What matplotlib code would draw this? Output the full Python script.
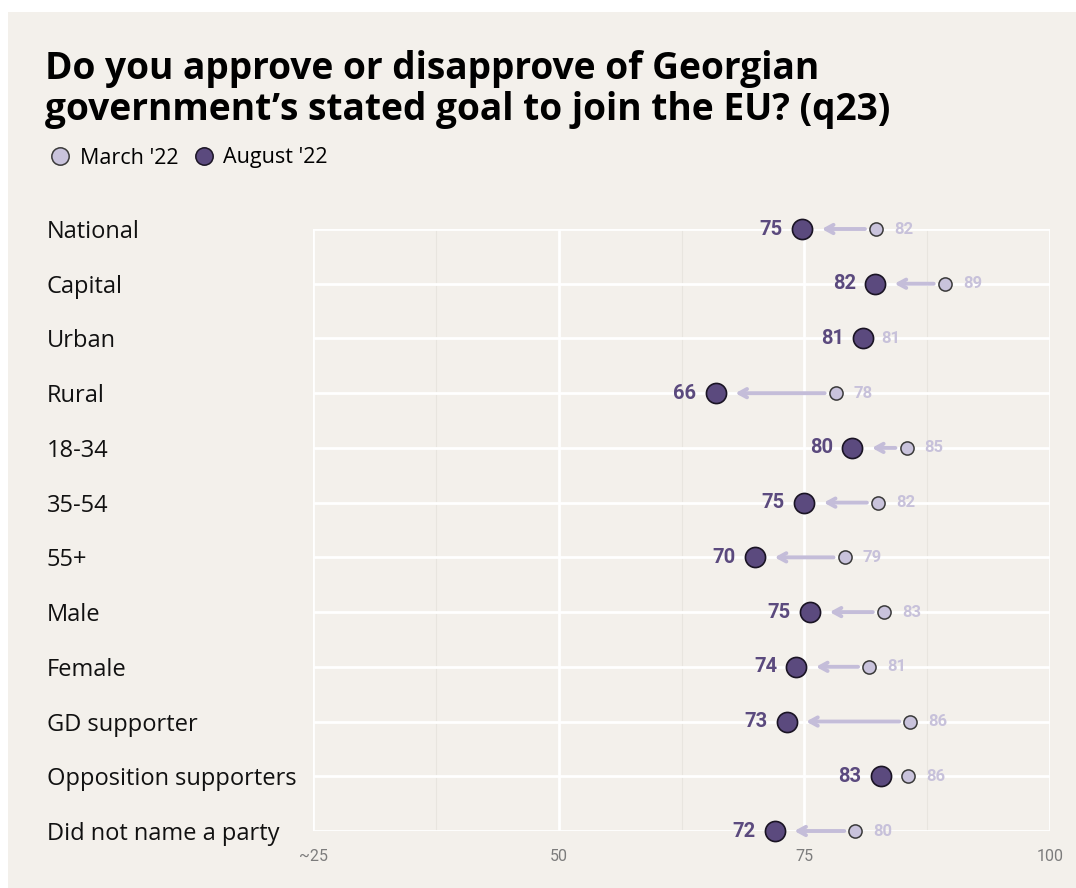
import matplotlib.pyplot as plt
import matplotlib.transforms as mtransforms
from matplotlib.lines import Line2D
from matplotlib.patches import Rectangle

# data
groups = ["National", "Capital", "Urban", "Rural", "18-34", "35-54", "55+",
          "Male", "Female", "GD supporter", "Opposition supporters",
          "Did not name a party"]
march = [82.3, 89.3, 81.0, 78.2, 85.4, 82.5, 79.1, 83.1, 81.6, 85.8, 85.6, 80.2]
august = [74.8, 82.2, 81.0, 66.0, 79.9, 75.0, 70.0, 75.6, 74.2, 73.2, 82.8, 72.0]
march_lbl = [82, 89, 81, 78, 85, 82, 79, 83, 81, 86, 86, 80]
august_lbl = [75, 82, 81, 66, 80, 75, 70, 75, 74, 73, 83, 72]
xticks = [25, 50, 75, 100]
xtick_lbl = ["~25", "50", "75", "100"]

BG = "#f3f0eb"
DARK = "#5b4a7e"
LIGHT = "#c9c3dc"
ARROW = "#c4bdd9"
LIGHT_TXT = "#c7c1da"

W, H = 1076, 888
fig = plt.figure(figsize=(W / 100, H / 100), dpi=100)
fig.patch.set_facecolor("white")
fig.patches.append(Rectangle((8 / W, 0), 1, 1 - 12 / H, transform=fig.transFigure,
                             facecolor=BG, edgecolor="none", zorder=-10))

ax = fig.add_axes([313 / W, 1 - 831 / H, (1050 - 313) / W, (831 - 229) / H])
ax.set_facecolor(BG)
ax.set_xlim(25, 100)
ax.set_ylim(len(groups) - 1, 0)
for s in ax.spines.values():
    s.set_visible(False)

# grid
for x in [37.5, 62.5, 87.5]:
    ax.axvline(x, color="#e8e5df", lw=0.8, zorder=0)
for x in xticks:
    ax.axvline(x, color="white", lw=2, zorder=1)
for i in range(len(groups)):
    ax.axhline(i, color="white", lw=2, zorder=1)

narrow = ["Roboto", "DejaVu Sans"]
ax.set_yticks([])
ax.set_xticks(xticks)
ax.set_xticklabels(xtick_lbl, color="#7c7c7c", fontsize=11.5, fontfamily=narrow)
ax.tick_params(axis="x", length=0, pad=13)

ys = list(range(len(groups)))
for y, m, a in zip(ys, march, august):
    if m - a > 4:
        ax.annotate("", xy=(a, y), xytext=(m, y),
                    arrowprops=dict(arrowstyle="->,head_length=0.55,head_width=0.3",
                                    color=ARROW, lw=2.8, shrinkA=8, shrinkB=14),
                    zorder=2, annotation_clip=False)

ax.scatter(march, ys, s=90, color=LIGHT, edgecolor="#3a3a3a", lw=1.1, zorder=3,
           clip_on=False)
ax.scatter(august, ys, s=210, color=DARK, edgecolor="#1a1424", lw=1.2, zorder=4,
           clip_on=False)

for y, m, a, ml, al in zip(ys, march, august, march_lbl, august_lbl):
    ax.annotate(str(al), (a, y), xytext=(-14, 0), textcoords="offset points",
                ha="right", va="center", fontsize=14.5, fontweight="bold",
                color=DARK, fontfamily=narrow, zorder=5, annotation_clip=False)
    ax.annotate(str(ml), (m, y), xytext=(13, 0), textcoords="offset points",
                ha="left", va="center", fontsize=12, fontweight="bold",
                color=LIGHT_TXT, fontfamily=narrow, zorder=5, annotation_clip=False)

# category labels on the left
trans = mtransforms.blended_transform_factory(fig.transFigure, ax.transData)
for y, g in zip(ys, groups):
    ax.text(47 / W, y, g, transform=trans, ha="left", va="center_baseline",
            fontsize=17, color="#111111", fontfamily="Open Sans")

fig.text(45 / W, 1 - 50 / H,
         "Do you approve or disapprove of Georgian\ngovernment\u2019s stated goal to join the EU? (q23)",
         ha="left", va="top", fontsize=26.7, fontweight="bold", color="black",
         fontfamily="Open Sans", linespacing=1.12)

handles = [
    Line2D([], [], marker="o", ls="none", markersize=12.5, markerfacecolor=LIGHT,
           markeredgecolor="#3a3a3a", markeredgewidth=1.1, label="March '22"),
    Line2D([], [], marker="o", ls="none", markersize=12.5, markerfacecolor=DARK,
           markeredgecolor="#1a1424", markeredgewidth=1.1, label="August '22"),
]
fig.legend(handles=handles, loc="center left", bbox_to_anchor=(28 / W, 1 - 158 / H),
           ncol=2, frameon=False, handletextpad=0.3, columnspacing=0.6,
           handlelength=1.2, prop={"family": "Open Sans", "size": 15.5})

fig.savefig("out.png", dpi=100, facecolor=fig.get_facecolor())
